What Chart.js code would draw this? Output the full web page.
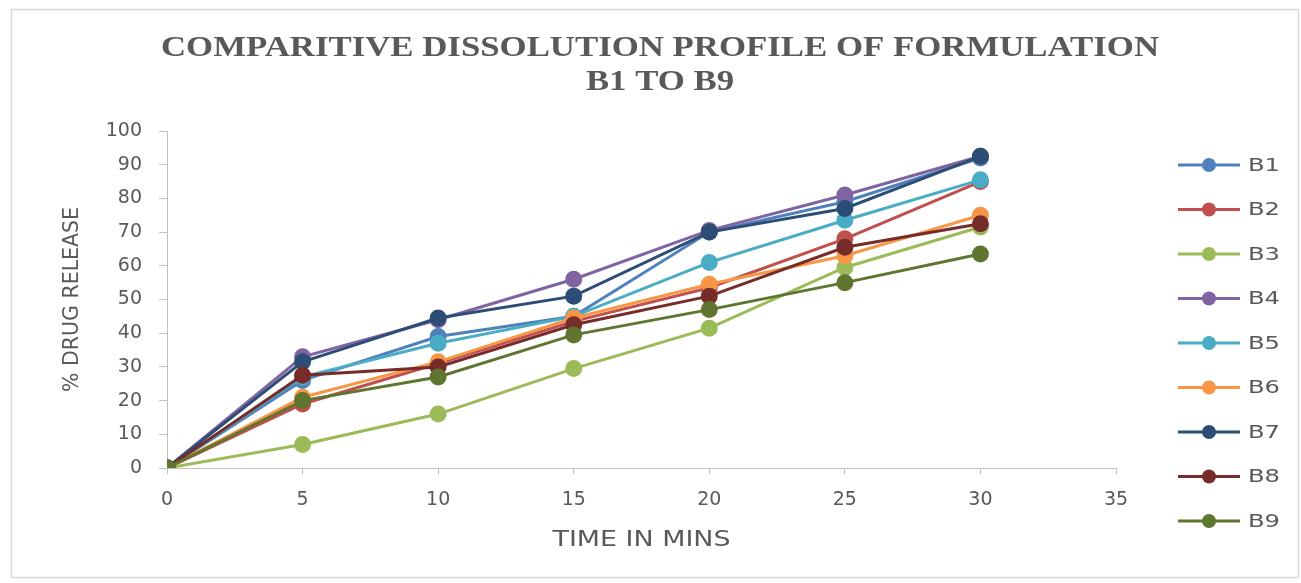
<!DOCTYPE html>
<html>
<head>
<meta charset="utf-8">
<script src="https://cdn.jsdelivr.net/npm/chart.js@4.4.0/dist/chart.umd.min.js"></script>
<style>
  html, body { margin: 0; padding: 0; background: #ffffff; }
  #wrap { width: 1301px; height: 583px; position: relative; }
</style>
</head>
<body>
<div id="wrap"><canvas id="c" width="1301" height="583"></canvas></div>
<script>
// ---- data ----
const timeMins = [0, 5, 10, 15, 20, 25, 30];
const seriesNames = ["B1", "B2", "B3", "B4", "B5", "B6", "B7", "B8", "B9"];
const B1 = [0, 26, 39, 45, 70, 79, 92];
const B2 = [0, 19, 31, 43.5, 53.5, 68, 85];
const B3 = [0, 7, 16, 29.5, 41.5, 59.5, 71.5];
const B4 = [0, 33, 44, 56, 70.5, 81, 92.5];
const B5 = [0, 27, 37, 45, 61, 73.5, 85.5];
const B6 = [0, 21, 31.5, 44.5, 54.5, 63, 75];
const B7 = [0, 31.5, 44.5, 51, 70, 77, 92.5];
const B8 = [0, 27.5, 30, 42.5, 51, 65.5, 72.5];
const B9 = [0, 20, 27, 39.5, 47, 55, 63.5];
const xTicks = [0, 5, 10, 15, 20, 25, 30, 35];
const yTicks = [0, 10, 20, 30, 40, 50, 60, 70, 80, 90, 100];
const titleLines = ["COMPARITIVE DISSOLUTION PROFILE OF FORMULATION", "B1 TO B9"];
const xTitle = "TIME IN MINS";
const yTitle = "% DRUG RELEASE";

const seriesValues = [B1, B2, B3, B4, B5, B6, B7, B8, B9];
const colors = ["#4F81BD", "#C0504D", "#9BBB59", "#8064A2", "#4BACC6", "#F79646", "#2C4D75", "#772C2A", "#5F7530"];

const TEXT = "#595959";
const FONT = "'DejaVu Sans', 'Open Sans', sans-serif";

const datasets = seriesNames.map((name, i) => ({
  label: name,
  data: timeMins.map((t, k) => ({ x: t, y: seriesValues[i][k] })),
  borderColor: colors[i],
  backgroundColor: colors[i],
  pointBackgroundColor: colors[i],
  pointBorderColor: colors[i],
  borderWidth: 3,
  pointRadius: 7,
  pointHoverRadius: 7,
  tension: 0,
  order: seriesNames.length - i
}));

function drawStretched(ctx, text, x, y, targetW, rot) {
  const w = ctx.measureText(text).width;
  ctx.save();
  ctx.translate(x, y);
  if (rot) ctx.rotate(rot);
  ctx.scale(targetW / w, 1);
  ctx.fillText(text, 0, 0);
  ctx.restore();
}

const framePlugin = {
  id: 'frame',
  beforeDraw(chart) {
    const ctx = chart.ctx;
    ctx.save();
    ctx.fillStyle = '#ffffff';
    ctx.fillRect(0, 0, chart.width, chart.height);
    ctx.strokeStyle = '#d9d9d9';
    ctx.lineWidth = 1.5;
    ctx.strokeRect(11.5, 9.5, 1287, 568);
    // title
    ctx.fillStyle = TEXT;
    ctx.font = "bold 29px 'Liberation Serif', 'DejaVu Serif', serif";
    ctx.textAlign = 'center';
    ctx.textBaseline = 'middle';
    const w0 = ctx.measureText(titleLines[0]).width;
    const k = 998 / w0;
    titleLines.forEach((line, i) => {
      const w = ctx.measureText(line).width;
      drawStretched(ctx, line, 660, 49 + i * 34, w * k, 0);
    });
    // axis titles
    ctx.font = "22px " + FONT;
    const ca = chart.chartArea;
    drawStretched(ctx, xTitle, (ca.left + ca.right) / 2, 540, 178, 0);
    drawStretched(ctx, yTitle, 72, (ca.top + ca.bottom) / 2, 185, -Math.PI / 2);
    ctx.restore();
  },
  afterDraw(chart) {
    const ctx = chart.ctx;
    ctx.save();
    const x0 = 1178, x1 = 1240, px = 1209, tx = 1248;
    chart.data.datasets.forEach((ds, i) => {
      const y = 165 + i * 44.5;
      ctx.strokeStyle = ds.borderColor;
      ctx.lineWidth = 3;
      ctx.beginPath();
      ctx.moveTo(x0, y);
      ctx.lineTo(x1, y);
      ctx.stroke();
      ctx.fillStyle = ds.backgroundColor;
      ctx.beginPath();
      ctx.arc(px, y, 7, 0, Math.PI * 2);
      ctx.fill();
      ctx.fillStyle = TEXT;
      ctx.font = "18px " + FONT;
      ctx.textAlign = 'left';
      ctx.textBaseline = 'middle';
      drawStretched(ctx, ds.label, tx, y + 1, 32, 0);
    });
    ctx.restore();
  }
};

new Chart(document.getElementById('c'), {
  type: 'line',
  data: { datasets },
  plugins: [framePlugin],
  options: {
    responsive: false,
    animation: false,
    layout: { padding: { top: 131, right: 185, bottom: 0, left: 0 } },
    plugins: {
      legend: { display: false },
      tooltip: { enabled: false },
      title: { display: false }
    },
    scales: {
      x: {
        type: 'linear',
        min: 0, max: 35,
        afterBuildTicks(scale) { scale.ticks = xTicks.map(v => ({ value: v })); },
        afterFit(scale) { scale.height = 115; },
        ticks: { color: TEXT, font: { size: 19, family: FONT }, padding: 15, maxRotation: 0 },
        grid: { display: true, drawOnChartArea: false, drawTicks: true, tickLength: 6, color: '#bfbfbf' },
        border: { display: true, color: '#bfbfbf', width: 1 },
        title: { display: false }
      },
      y: {
        type: 'linear',
        min: 0, max: 100,
        afterBuildTicks(scale) { scale.ticks = yTicks.map(v => ({ value: v })); },
        afterFit(scale) { scale.width = 167; },
        ticks: { color: TEXT, font: { size: 19, family: FONT }, padding: 17 },
        grid: { display: true, drawOnChartArea: false, drawTicks: true, tickLength: 8, color: '#bfbfbf' },
        border: { display: true, color: '#bfbfbf', width: 1 },
        title: { display: false }
      }
    }
  }
});
</script>
</body>
</html>
